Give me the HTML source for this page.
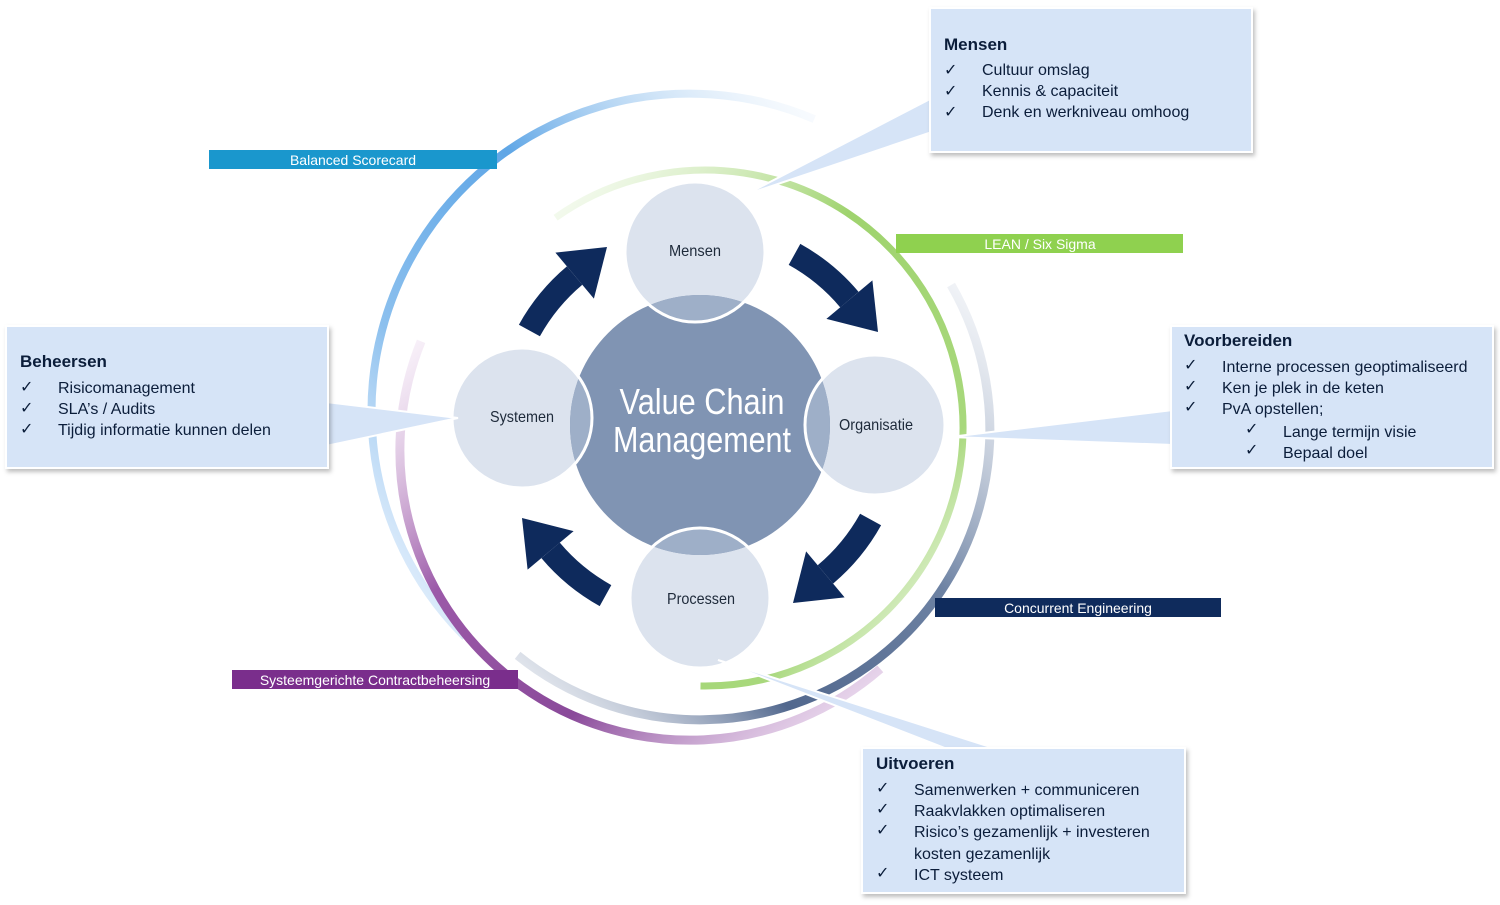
<!DOCTYPE html>
<html><head><meta charset="utf-8"><style>
html,body{margin:0;padding:0;background:#fff;width:1500px;height:905px;overflow:hidden}
svg text{font-family:"Liberation Sans",sans-serif}
</style></head><body>
<svg width="1500" height="905" viewBox="0 0 1500 905" xmlns="http://www.w3.org/2000/svg">
<defs>
<linearGradient id="gb" x1="0" y1="1" x2="1" y2="0"><stop offset="0" stop-color="#cfe3fa" stop-opacity="0.3"/><stop offset="0.3" stop-color="#8cc0ee"/><stop offset="0.6" stop-color="#5fa6e6"/><stop offset="1" stop-color="#e8f1fb" stop-opacity="0.2"/></linearGradient>
<linearGradient id="gp" x1="0" y1="0" x2="1" y2="1"><stop offset="0" stop-color="#ecd8ee" stop-opacity="0.3"/><stop offset="0.35" stop-color="#9b59a8"/><stop offset="0.65" stop-color="#8a4a9a"/><stop offset="1" stop-color="#e7cdec" stop-opacity="0.4"/></linearGradient>
<linearGradient id="gg" x1="0" y1="0" x2="1" y2="1"><stop offset="0" stop-color="#e6f4da" stop-opacity="0.3"/><stop offset="0.4" stop-color="#9fd36e"/><stop offset="0.75" stop-color="#a8d87c"/><stop offset="1" stop-color="#e6f4da" stop-opacity="0.3"/></linearGradient>
<linearGradient id="gn" x1="1" y1="0" x2="0" y2="1"><stop offset="0" stop-color="#e0e5ee" stop-opacity="0.3"/><stop offset="0.4" stop-color="#6d82a3"/><stop offset="0.7" stop-color="#52688e"/><stop offset="1" stop-color="#d8dee8" stop-opacity="0.3"/></linearGradient>
<clipPath id="cb"><circle cx="700" cy="425" r="130"/></clipPath>
<filter id="sh" x="-5%" y="-5%" width="110%" height="115%"><feDropShadow dx="2" dy="3" stdDeviation="2" flood-color="#000" flood-opacity="0.25"/></filter>
</defs>

<!-- rings -->
<path d="M465.1,636.9 A318,318 0 0 1 814.3,119.1" fill="none" stroke="url(#gb)" stroke-width="8"/>
<path d="M421.1,341.3 A290,290 0 0 0 880.3,668.9" fill="none" stroke="url(#gp)" stroke-width="9"/>
<path d="M555.6,217.7 A258,258 0 1 1 700.5,686" fill="none" stroke="url(#gg)" stroke-width="7"/>
<path d="M951.1,285 A290,290 0 0 1 517.6,655.4" fill="none" stroke="url(#gn)" stroke-width="9"/>

<!-- label bars -->
<rect x="209" y="150" width="288" height="19" fill="#1a97cd"/>
<text x="353" y="165" font-size="14" fill="#fff" text-anchor="middle">Balanced Scorecard</text>
<rect x="896" y="234" width="287" height="19" fill="#8fd14f"/>
<text x="1040" y="249" font-size="14" fill="#fff" text-anchor="middle">LEAN / Six Sigma</text>
<rect x="935" y="598" width="286" height="19" fill="#0f2b5c"/>
<text x="1078" y="613" font-size="14" fill="#fff" text-anchor="middle">Concurrent Engineering</text>
<rect x="232" y="670" width="286" height="19" fill="#7a2e8c"/>
<text x="375" y="685" font-size="14" fill="#fff" text-anchor="middle">Systeemgerichte Contractbeheersing</text>

<!-- arrows -->
<g id="arr" fill="#0e2a5c">
<path d="M794.5,254.4 A195,195 0 0 1 849.4,299.6" fill="none" stroke="#0e2a5c" stroke-width="24"/>
<polygon points="826.4,318.9 872.4,280.4 878,332"/>
</g>
<use href="#arr" transform="rotate(90 700 425)"/>
<use href="#arr" transform="rotate(180 700 425)"/>
<use href="#arr" transform="rotate(270 700 425)"/>

<!-- small circles -->
<g fill="#dce3ee">
<circle cx="695" cy="252" r="70"/><circle cx="875" cy="425" r="70"/>
<circle cx="700" cy="598" r="70"/><circle cx="522" cy="418" r="70"/>
</g>
<circle cx="700" cy="425" r="130" fill="#8094b3"/>
<g clip-path="url(#cb)" fill="#9eafc8">
<circle cx="695" cy="252" r="70"/><circle cx="875" cy="425" r="70"/>
<circle cx="700" cy="598" r="70"/><circle cx="522" cy="418" r="70"/>
</g>
<g fill="none" stroke="#fff" stroke-width="3">
<circle cx="695" cy="252" r="70"/><circle cx="875" cy="425" r="70"/>
<circle cx="700" cy="598" r="70"/><circle cx="522" cy="418" r="70"/>
</g>
<text x="702" y="414" font-size="36" fill="#fff" text-anchor="middle" textLength="165" lengthAdjust="spacingAndGlyphs">Value Chain</text>
<text x="702" y="452" font-size="36" fill="#fff" text-anchor="middle" textLength="178" lengthAdjust="spacingAndGlyphs">Management</text>
<g font-size="16" fill="#1e2a3a" text-anchor="middle">
<text x="695" y="256" textLength="52" lengthAdjust="spacingAndGlyphs">Mensen</text>
<text x="876" y="430" textLength="74" lengthAdjust="spacingAndGlyphs">Organisatie</text>
<text x="701" y="604" textLength="68" lengthAdjust="spacingAndGlyphs">Processen</text>
<text x="522" y="422" textLength="64" lengthAdjust="spacingAndGlyphs">Systemen</text>
</g>

<!-- callout wedges -->
<g fill="#d6e4f7" stroke="#fff" stroke-width="2">
<polygon points="745,195 932,98 932,132"/>
<polygon points="458,418 326,402 326,446"/>
<polygon points="950,437 1173,410 1173,445"/>
<polygon points="718,660 950,750 1000,750"/>
</g>

<!-- boxes -->
<g fill="#d6e4f7" stroke="#fff" stroke-width="2" filter="url(#sh)">
<rect x="930" y="8" width="322" height="144"/>
<rect x="6" y="326" width="322" height="142"/>
<rect x="1171" y="326" width="322" height="142"/>
<rect x="862" y="748" width="323" height="145"/>
</g>
<g font-size="16" fill="#0b1d3a">
<text x="944" y="50" font-weight="bold" font-size="17">Mensen</text>
<text x="944" y="75">✓</text><text x="982" y="75">Cultuur omslag</text>
<text x="944" y="96">✓</text><text x="982" y="96">Kennis &amp; capaciteit</text>
<text x="944" y="117">✓</text><text x="982" y="117">Denk en werkniveau omhoog</text>

<text x="20" y="367" font-weight="bold" font-size="17">Beheersen</text>
<text x="20" y="392">✓</text><text x="58" y="393">Risicomanagement</text>
<text x="20" y="413">✓</text><text x="58" y="414">SLA’s / Audits</text>
<text x="20" y="434">✓</text><text x="58" y="435">Tijdig informatie kunnen delen</text>

<text x="1184" y="346" font-weight="bold" font-size="17">Voorbereiden</text>
<text x="1184" y="370">✓</text><text x="1222" y="372">Interne processen geoptimaliseerd</text>
<text x="1184" y="391">✓</text><text x="1222" y="393">Ken je plek in de keten</text>
<text x="1184" y="412">✓</text><text x="1222" y="414">PvA opstellen;</text>
<text x="1245" y="434">✓</text><text x="1283" y="437">Lange termijn visie</text>
<text x="1245" y="455">✓</text><text x="1283" y="458">Bepaal doel</text>

<text x="876" y="769" font-weight="bold" font-size="17">Uitvoeren</text>
<text x="876" y="793">✓</text><text x="914" y="795">Samenwerken + communiceren</text>
<text x="876" y="814">✓</text><text x="914" y="816">Raakvlakken optimaliseren</text>
<text x="876" y="835">✓</text><text x="914" y="837">Risico’s gezamenlijk + investeren</text>
<text x="914" y="859">kosten gezamenlijk</text>
<text x="876" y="878">✓</text><text x="914" y="880">ICT systeem</text>
</g>
</svg>
</body></html>
